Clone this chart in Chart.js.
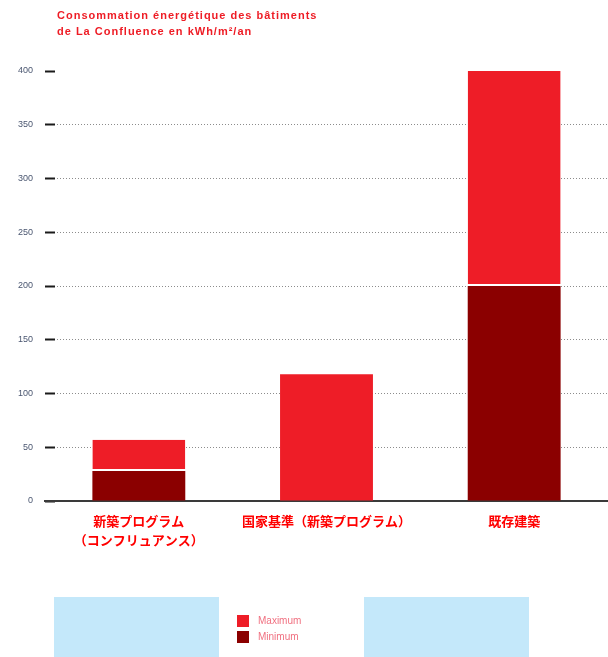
<!DOCTYPE html>
<html>
<head>
<meta charset="utf-8">
<script src="https://cdn.jsdelivr.net/npm/chart.js@4/dist/chart.umd.min.js"></script>
<style>
  body { margin: 0; background: #fff; }
  #wrap { position: relative; width: 608px; height: 657px; overflow: hidden; }
  #chart { position: absolute; left: 0; top: 0; }
  .title {
    position: absolute; left: 57px; top: 7px;
    font: bold 11px "Liberation Sans", Arial, sans-serif;
    letter-spacing: 1px; line-height: 16px; color: #ee1c25;
  }
  .panel { position: absolute; top: 597px; width: 165px; height: 60px; background: #c4e8fa; }
  #legend { position: absolute; left: 237px; top: 615px; font: 10px "Liberation Sans", Arial, sans-serif; color: #f07080; }
  #legend div { height: 16px; line-height: 12px; white-space: nowrap; }
  #legend span { display: inline-block; width: 12px; height: 12px; vertical-align: top; margin-right: 9px; }
</style>
</head>
<body>
<div id="wrap">
  <canvas id="chart" width="608" height="657"></canvas>
  <div class="title">Consommation énergétique des bâtiments<br>de La Confluence en kWh/m²/an</div>
  <div class="panel" style="left:54px"></div>
  <div class="panel" style="left:364px"></div>
  <div id="legend"></div>
</div>
<script>
// categories on the x axis
const categories = [
  ['新築プログラム', '（コンフリュアンス）'],
  '国家基準（新築プログラム）',
  '既存建築'
]

// kWh/m²/an
const minimumValues = [28, null, 200]
const maximumValues = [57, 118, 400]

const yTicks = [0, 50, 100, 150, 200, 250, 300, 350, 400]

const minColor = '#8b0000'
const maxColor = '#ee1d27'

// the red part sits on top of the dark red one
const maxSegments = maximumValues.map((v, i) => v - (minimumValues[i] || 0))

const datasets = [
  {
    label: 'Minimum',
    data: minimumValues,
    backgroundColor: minColor,
    borderWidth: 0
  },
  {
    label: 'Maximum',
    data: maxSegments,
    backgroundColor: maxColor,
    borderColor: 'rgba(0,0,0,0)',
    borderSkipped: false,
    borderWidth: (c) => minimumValues[c.dataIndex] ? { bottom: 2 } : 0
  }
]

const chart = new Chart(document.getElementById('chart'), {
  type: 'bar',
  data: { labels: categories, datasets: datasets },
  options: {
    responsive: false,
    animation: false,
    layout: { padding: { left: 18, right: 0, top: 71, bottom: 97 } },
    datasets: { bar: { categoryPercentage: 1, barPercentage: 0.495 } },
    plugins: { legend: { display: false }, tooltip: { enabled: false } },
    scales: {
      x: {
        stacked: true,
        z: 1,
        grid: { display: false, drawTicks: false },
        border: { display: true, color: '#3a3a3a', width: 2 },
        ticks: {
          padding: 10,
          color: '#ff0000',
          font: { family: '"Noto Sans CJK JP"', size: 13, weight: 'bold', lineHeight: 1.5 }
        }
      },
      y: {
        stacked: true,
        min: 0,
        max: 400,
        afterBuildTicks: (s) => { s.ticks = yTicks.map(v => ({ value: v })) },
        afterFit: (s) => { s.width = 27 },
        border: { display: false, dash: [1, 2] },
        grid: {
          color: (c) => c.tick && c.tick.value === 400 ? 'rgba(0,0,0,0)' : '#8c8c8c',
          lineWidth: 1,
          tickLength: -10,
          tickColor: '#1a1a1a',
          tickWidth: 2,
          tickBorderDash: []
        },
        ticks: {
          padding: 22,
          color: '#4a5670',
          font: { family: '"Liberation Sans"', size: 9 }
        }
      }
    }
  }
})

// legend, Maximum first as in the original
const legend = document.getElementById('legend')
datasets.slice().reverse().forEach(ds => {
  const row = document.createElement('div')
  row.innerHTML = '<span style="background:' + ds.backgroundColor + '"></span>' + ds.label
  legend.appendChild(row)
})
</script>
</body>
</html>
